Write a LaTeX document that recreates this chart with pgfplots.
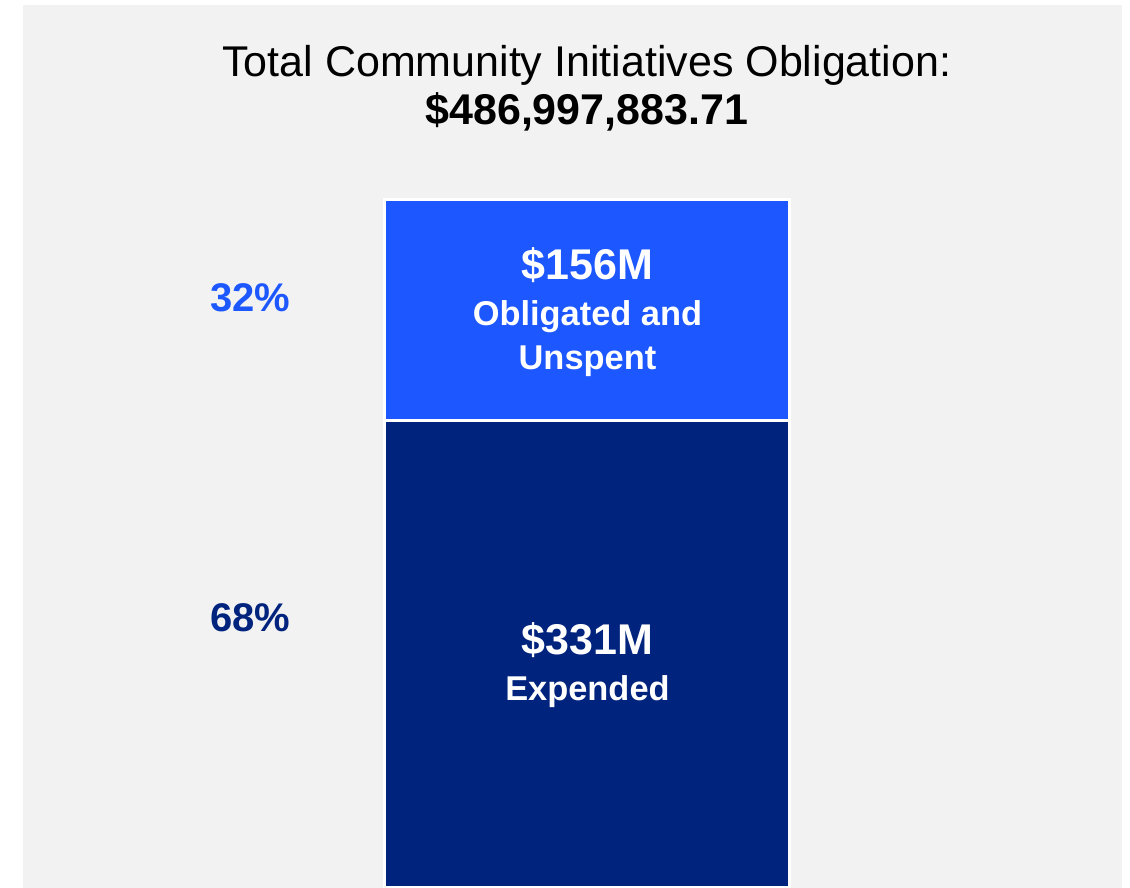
\documentclass[border=0pt]{standalone}
\usepackage{pgfplots}
\pgfplotsset{compat=1.18}
\usepackage{fontspec}
\setmainfont{Liberation Sans}
\definecolor{panelgray}{HTML}{F2F2F2}
\definecolor{lightblue}{HTML}{1C57FF}
\definecolor{navy}{HTML}{00237E}
\begin{document}
\begin{tikzpicture}
\path[use as bounding box] (-11.5pt,0pt) rectangle (553.5pt,444pt);
\begin{axis}[
  at={(0pt,0pt)}, anchor=south west,
  scale only axis, width=549.5pt, height=441.5pt,
  xmin=0, xmax=1, ymin=0, ymax=625,
  axis background/.style={fill=panelgray},
  axis line style={draw=none}, ticks=none,
  ybar stacked, bar width=202.5pt,
  clip=true,
]
\addplot[fill=navy, draw=white, line width=1.5pt] coordinates {(0.5136,331)};
\addplot[fill=lightblue, draw=white, line width=1.5pt] coordinates {(0.5136,156)};
\coordinate (t1) at (axis cs:0.513,582.5);
\coordinate (t2) at (axis cs:0.513,549.3);
\coordinate (a1) at (axis cs:0.5136,441.0);
\coordinate (a2) at (axis cs:0.5136,404.2);
\coordinate (a3) at (axis cs:0.5136,373.0);
\coordinate (b1) at (axis cs:0.5136,175.5);
\coordinate (b2) at (axis cs:0.5136,138.8);
\coordinate (p1) at (axis cs:0.2066,417.6);
\coordinate (p2) at (axis cs:0.2066,191.1);
\end{axis}
\node[font=\fontsize{21.5}{24}\selectfont] at (t1) {Total Community Initiatives Obligation:};
\node[font=\fontsize{21.5}{24}\selectfont\bfseries] at (t2) {\$486,997,883.71};
\node[text=white, font=\fontsize{21.5}{24}\selectfont\bfseries] at (a1) {\$156M};
\node[text=white, font=\fontsize{17.2}{20}\selectfont\bfseries] at (a2) {Obligated and};
\node[text=white, font=\fontsize{17.2}{20}\selectfont\bfseries] at (a3) {Unspent};
\node[text=white, font=\fontsize{21.5}{24}\selectfont\bfseries] at (b1) {\$331M};
\node[text=white, font=\fontsize{17.2}{20}\selectfont\bfseries] at (b2) {Expended};
\node[text=lightblue, font=\fontsize{20}{24}\selectfont\bfseries] at (p1) {32\%};
\node[text=navy, font=\fontsize{20}{24}\selectfont\bfseries] at (p2) {68\%};
\end{tikzpicture}
\end{document}
